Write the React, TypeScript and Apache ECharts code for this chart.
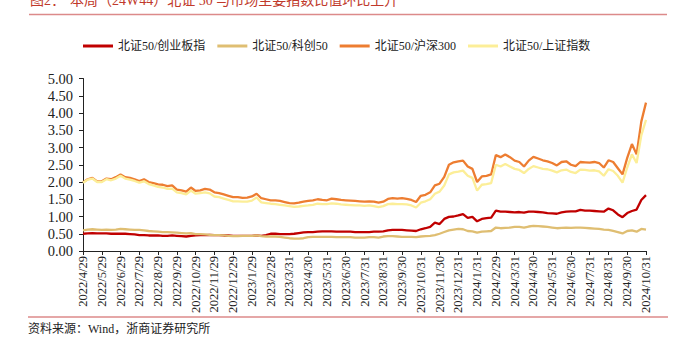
import React, { useEffect, useRef } from "react";
import * as echarts from "echarts";

const monthLabels = [
  "2022/4/29", "2022/5/29", "2022/6/29", "2022/7/29", "2022/8/29", "2022/9/29",
  "2022/10/29", "2022/11/29", "2022/12/29", "2023/1/29", "2023/2/28", "2023/3/31",
  "2023/4/30", "2023/5/31", "2023/6/30", "2023/7/31", "2023/8/31", "2023/9/30",
  "2023/10/31", "2023/11/30", "2023/12/31", "2024/1/31", "2024/2/29", "2024/3/31",
  "2024/4/30", "2024/5/31", "2024/6/30", "2024/7/31", "2024/8/31", "2024/9/30",
  "2024/10/31",
];

const seriesNames = ["北证50/创业板指", "北证50/科创50", "北证50/沪深300", "北证50/上证指数"];

// 4 samples per month, last value at 2024/10/31
const vsChiNext = [
  0.50, 0.51, 0.52, 0.51, 0.51, 0.51, 0.50, 0.50, 0.50, 0.50, 0.49, 0.48,
  0.46, 0.46, 0.45, 0.45, 0.45, 0.44, 0.44, 0.45, 0.44, 0.43, 0.42, 0.44,
  0.45, 0.46, 0.46, 0.47, 0.46, 0.46, 0.45, 0.45, 0.44, 0.44, 0.44, 0.44,
  0.44, 0.45, 0.44, 0.46, 0.50, 0.50, 0.49, 0.49, 0.49, 0.50, 0.52, 0.54,
  0.55, 0.55, 0.56, 0.57, 0.57, 0.57, 0.56, 0.56, 0.56, 0.56, 0.55, 0.55,
  0.55, 0.55, 0.56, 0.56, 0.57, 0.60, 0.61, 0.61, 0.61, 0.60, 0.59, 0.58,
  0.63, 0.66, 0.70, 0.82, 0.78, 0.93, 0.99, 1.00, 1.03, 1.07, 0.96, 0.99,
  0.86, 0.93, 0.95, 0.97, 1.17, 1.14, 1.14, 1.13, 1.12, 1.13, 1.11, 1.14,
  1.14, 1.13, 1.12, 1.10, 1.09, 1.08, 1.12, 1.14, 1.15, 1.15, 1.19, 1.17,
  1.17, 1.16, 1.15, 1.14, 1.23, 1.18, 1.06, 0.98, 1.10, 1.16, 1.20, 1.48,
  1.62,
];

const vsStar50 = [
  0.60, 0.62, 0.63, 0.62, 0.61, 0.62, 0.61, 0.62, 0.64, 0.63, 0.62, 0.61,
  0.61, 0.60, 0.58, 0.57, 0.56, 0.55, 0.55, 0.54, 0.53, 0.52, 0.51, 0.52,
  0.49, 0.49, 0.48, 0.47, 0.46, 0.46, 0.45, 0.44, 0.43, 0.43, 0.44, 0.44,
  0.44, 0.45, 0.43, 0.42, 0.42, 0.42, 0.41, 0.39, 0.37, 0.36, 0.36, 0.37,
  0.40, 0.41, 0.41, 0.41, 0.41, 0.41, 0.40, 0.40, 0.40, 0.40, 0.39, 0.39,
  0.39, 0.40, 0.40, 0.39, 0.42, 0.43, 0.43, 0.42, 0.41, 0.41, 0.41, 0.40,
  0.42, 0.43, 0.44, 0.46, 0.50, 0.55, 0.60, 0.62, 0.64, 0.63, 0.58, 0.57,
  0.53, 0.56, 0.57, 0.58, 0.68, 0.66, 0.67, 0.68, 0.70, 0.70, 0.68, 0.71,
  0.73, 0.72, 0.71, 0.70, 0.68, 0.66, 0.67, 0.68, 0.67, 0.68, 0.68, 0.67,
  0.66, 0.65, 0.64, 0.62, 0.61, 0.58, 0.55, 0.51, 0.58, 0.60, 0.56, 0.64,
  0.62,
];

const vsCSI300 = [
  1.99, 2.08, 2.12, 2.02, 2.02, 2.10, 2.08, 2.14, 2.22, 2.14, 2.12, 2.08,
  2.03, 2.08, 2.00, 1.97, 1.93, 1.92, 1.88, 1.90, 1.78, 1.76, 1.72, 1.84,
  1.74, 1.76, 1.80, 1.78, 1.70, 1.68, 1.64, 1.60, 1.56, 1.56, 1.54, 1.55,
  1.58, 1.66, 1.53, 1.50, 1.47, 1.47, 1.45, 1.42, 1.39, 1.38, 1.40, 1.43,
  1.45, 1.47, 1.50, 1.48, 1.47, 1.52, 1.50, 1.48, 1.47, 1.46, 1.45, 1.44,
  1.43, 1.44, 1.43, 1.40, 1.43, 1.51, 1.53, 1.52, 1.53, 1.51, 1.48, 1.42,
  1.60, 1.63, 1.70, 1.90, 1.95, 2.15, 2.50, 2.57, 2.60, 2.62, 2.45, 2.38,
  2.00, 2.16, 2.18, 2.22, 2.78, 2.72, 2.80, 2.72, 2.62, 2.58, 2.45, 2.62,
  2.73, 2.68, 2.63, 2.60, 2.55, 2.48, 2.58, 2.60, 2.50, 2.46, 2.58, 2.57,
  2.56, 2.58, 2.55, 2.42, 2.63, 2.58, 2.40, 2.22, 2.70, 3.10, 2.80, 3.75,
  4.30,
];

const vsSSE = [
  1.98, 2.07, 2.10, 2.00, 2.00, 2.08, 2.05, 2.10, 2.18, 2.10, 2.07, 2.03,
  1.98, 2.02, 1.94, 1.90, 1.86, 1.84, 1.80, 1.81, 1.70, 1.68, 1.64, 1.75,
  1.66, 1.68, 1.70, 1.67, 1.58, 1.56, 1.52, 1.48, 1.44, 1.44, 1.43, 1.43,
  1.46, 1.55, 1.41, 1.39, 1.37, 1.36, 1.34, 1.32, 1.30, 1.28, 1.29, 1.31,
  1.32, 1.34, 1.37, 1.36, 1.36, 1.38, 1.37, 1.35, 1.34, 1.33, 1.32, 1.32,
  1.31, 1.32, 1.30, 1.27, 1.30, 1.36, 1.37, 1.36, 1.36, 1.35, 1.32, 1.26,
  1.40, 1.44, 1.50, 1.66, 1.72, 1.90, 2.22, 2.28, 2.30, 2.33, 2.18, 2.12,
  1.75, 1.92, 1.94, 1.97, 2.50, 2.45, 2.52, 2.45, 2.38, 2.35, 2.26, 2.38,
  2.46, 2.42, 2.38, 2.37, 2.33, 2.28, 2.34, 2.36, 2.29, 2.26, 2.36, 2.35,
  2.33, 2.34, 2.31, 2.18, 2.37, 2.32, 2.18, 1.98, 2.42, 2.80, 2.55, 3.35,
  3.80,
];

const seriesData = [vsChiNext, vsStar50, vsCSI300, vsSSE];
const seriesColors = ["#C00000", "#DFBE72", "#ED7D31", "#FCEE98"];

const SERIF = "'Liberation Serif', 'Times New Roman', 'Noto Sans CJK SC', serif";

export default function App() {
  const ref = useRef<HTMLDivElement>(null);

  useEffect(() => {
    if (!ref.current) return;
    const chart = echarts.init(ref.current, null, { renderer: "svg" });

    const categories: string[] = [];
    for (let m = 0; m < monthLabels.length - 1; m++) {
      for (let k = 0; k < 4; k++) {
        categories.push(k === 0 ? monthLabels[m] : `${monthLabels[m]}+${k}`);
      }
    }
    categories.push(monthLabels[monthLabels.length - 1]);

    chart.setOption({
      animation: false,
      backgroundColor: "#fff",
      textStyle: { fontFamily: SERIF },
      grid: { left: 83, right: 38, top: 78.5, bottom: 91, containLabel: false },
      legend: {
        left: 83,
        top: 40,
        padding: 0,
        itemWidth: 30,
        itemHeight: 3,
        itemGap: 12,
        icon: "rect",
        textStyle: { fontSize: 12, color: "#222", fontFamily: SERIF },
        data: seriesNames,
      },
      xAxis: {
        type: "category",
        data: categories,
        boundaryGap: false,
        axisLine: { lineStyle: { color: "#222", width: 1 } },
        axisTick: { interval: 3, length: 4, lineStyle: { color: "#222" } },
        axisLabel: {
          interval: 3,
          rotate: 90,
          fontSize: 12.5,
          color: "#222",
          fontFamily: SERIF,
          margin: 5,
          formatter: (v: string) => (v.includes("+") ? "" : v),
        },
        splitLine: { show: false },
      },
      yAxis: {
        type: "value",
        min: 0,
        max: 5,
        interval: 0.5,
        axisLine: { show: true, lineStyle: { color: "#222", width: 1 } },
        axisTick: { show: true, length: 4, lineStyle: { color: "#222" } },
        axisLabel: {
          fontSize: 14.5,
          color: "#222",
          fontFamily: SERIF,
          margin: 10,
          formatter: (v: number) => v.toFixed(2),
        },
        splitLine: { show: false },
      },
      series: seriesNames.map((name, i) => ({
        name,
        type: "line",
        data: seriesData[i],
        showSymbol: false,
        symbol: "none",
        lineStyle: { color: seriesColors[i], width: 2.3 },
        itemStyle: { color: seriesColors[i] },
      })),
      graphic: [
        {
          type: "text",
          left: 30,
          top: -7,
          style: { text: "图2：", fontSize: 14, fill: "#C0392B", fontFamily: SERIF },
        },
        {
          type: "text",
          left: 70,
          top: -7,
          style: {
            text: "本周（24W44）北证 50 与市场主要指数比值环比上升",
            fontSize: 14,
            fill: "#C0392B",
            fontFamily: SERIF,
          },
        },
        {
          type: "line",
          shape: { x1: 29, y1: 14.5, x2: 667, y2: 14.5 },
          style: { stroke: "#DC8A8A", lineWidth: 1.5 },
        },
        {
          type: "line",
          shape: { x1: 28, y1: 317, x2: 668, y2: 317 },
          style: { stroke: "#DC8A8A", lineWidth: 1.5 },
        },
        {
          type: "text",
          left: 28,
          top: 323,
          style: { text: "资料来源：Wind，浙商证券研究所", fontSize: 12, fill: "#222", fontFamily: SERIF },
        },
      ],
    });

    return () => chart.dispose();
  }, []);

  return (
    <div
      ref={ref}
      style={{ position: "fixed", left: 0, top: 0, width: 684, height: 342, background: "#fff" }}
    />
  );
}
